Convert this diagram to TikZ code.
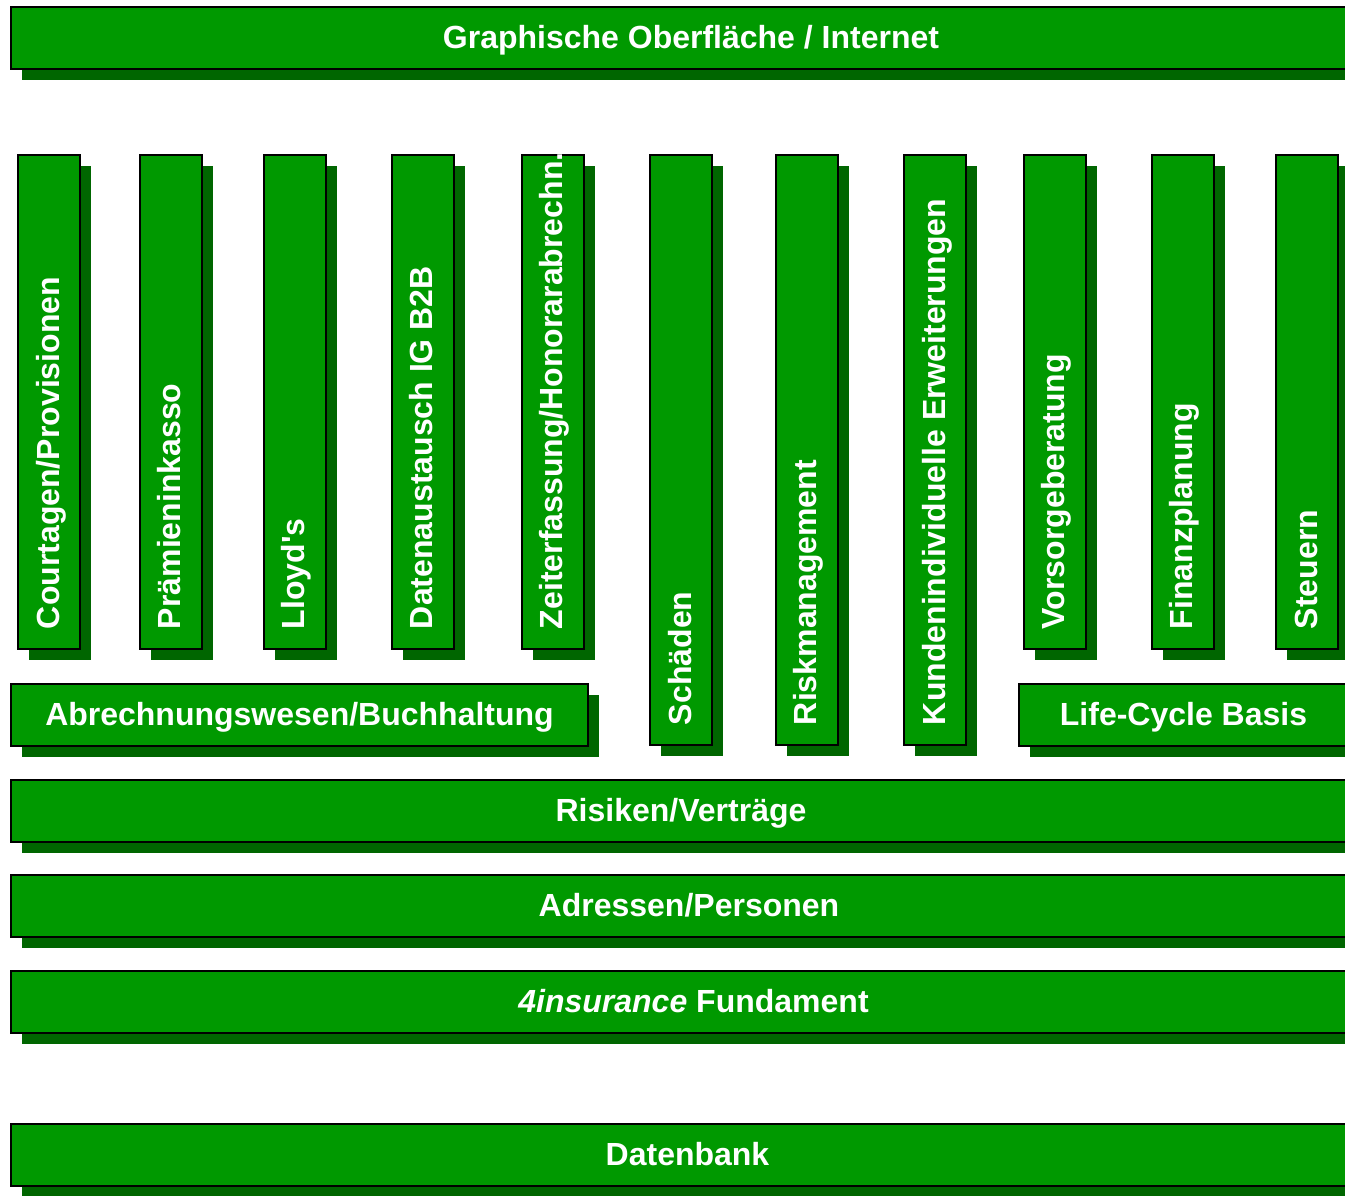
\documentclass[tikz,border=0pt]{standalone}
\usepackage{fontspec}
\setmainfont[Ligatures=TeXReset]{Liberation Sans}
\usetikzlibrary{shadows,calc}
\definecolor{boxgreen}{HTML}{009900}
\definecolor{shadegreen}{HTML}{006600}
\begin{document}
\begin{tikzpicture}[x=1pt,y=-1pt,
  blk/.style={rectangle, draw=black, line width=2pt, fill=boxgreen, inner sep=0pt, outer sep=0pt,
    general shadow={fill=shadegreen, shadow xshift=11pt, shadow yshift=-11pt}},
  bar/.style={blk, minimum height=62pt, text=white,
    font=\fontsize{32}{38}\selectfont\bfseries, text height=21pt, text depth=0pt},
  colbox/.style={blk, minimum width=62pt},
  shortcol/.style={colbox, minimum height=494pt},
  longcol/.style={colbox, minimum height=590pt},
  vtxt/.style={text=white, font=\fontsize{32}{38}\selectfont\bfseries, rotate=90,
    anchor=base west, inner sep=0pt, outer sep=0pt}
]
\useasboundingbox (0,0) rectangle (1345,1196);
\clip (0,0) rectangle (1345,1196);

% horizontal bars
\node[bar, minimum width=1360pt] (gui) at (691,38) {Graphische Oberfläche / Internet};
\node[bar, minimum width=577pt] (abr) at (299.5,714.5) {Abrechnungswesen/Buchhaltung};
\node[bar, minimum width=329pt] (lcb) at (1183.5,714.5) {Life-Cycle Basis};
\node[bar, minimum width=1340pt] (ris) at (681,810.5) {Risiken/Verträge};
\node[bar, minimum width=1356pt] (adr) at (689,906) {Adressen/Personen};
\node[bar, minimum width=1365pt] (fun) at (693.5,1002) {\itshape 4insurance\upshape{} Fundament};
\node[bar, minimum width=1353pt] (db) at (687.5,1155) {Datenbank};

% columns
\node[shortcol] (c1) at (49,402) {};
\node[shortcol] (c2) at (170.5,402) {};
\node[shortcol] (c3) at (294.5,402) {};
\node[shortcol] (c4) at (422.5,402) {};
\node[shortcol] (c5) at (552.5,402) {};
\node[longcol]  (c6) at (681,450) {};
\node[longcol]  (c7) at (806.5,450) {};
\node[longcol]  (c8) at (935,450) {};
\node[shortcol] (c9) at (1054.5,402) {};
\node[shortcol] (c10) at (1182.5,402) {};
\node[shortcol] (c11) at (1307,402) {};

% column labels
\node[vtxt] (t1) at ($(c1.south)+(10,-20)$) {Courtagen/Provisionen};
\node[vtxt] (t2) at ($(c2.south)+(10,-20)$) {Prämieninkasso};
\node[vtxt] (t3) at ($(c3.south)+(10,-20)$) {Lloyd's};
\node[vtxt] (t4) at ($(c4.south)+(10,-20)$) {Datenaustausch IG B2B};
\node[vtxt] (t5) at ($(c5.south)+(10,-20)$) {Zeiterfassung/Honorarabrechn.};
\node[vtxt] (t6) at ($(c6.south)+(10,-20)$) {Schäden};
\node[vtxt] (t7) at ($(c7.south)+(10,-20)$) {Riskmanagement};
\node[vtxt] (t8) at ($(c8.south)+(10,-20)$) {Kundenindividuelle Erweiterungen};
\node[vtxt] (t9) at ($(c9.south)+(10,-20)$) {Vorsorgeberatung};
\node[vtxt] (t10) at ($(c10.south)+(10,-20)$) {Finanzplanung};
\node[vtxt] (t11) at ($(c11.south)+(10,-20)$) {Steuern};
\end{tikzpicture}
\end{document}
